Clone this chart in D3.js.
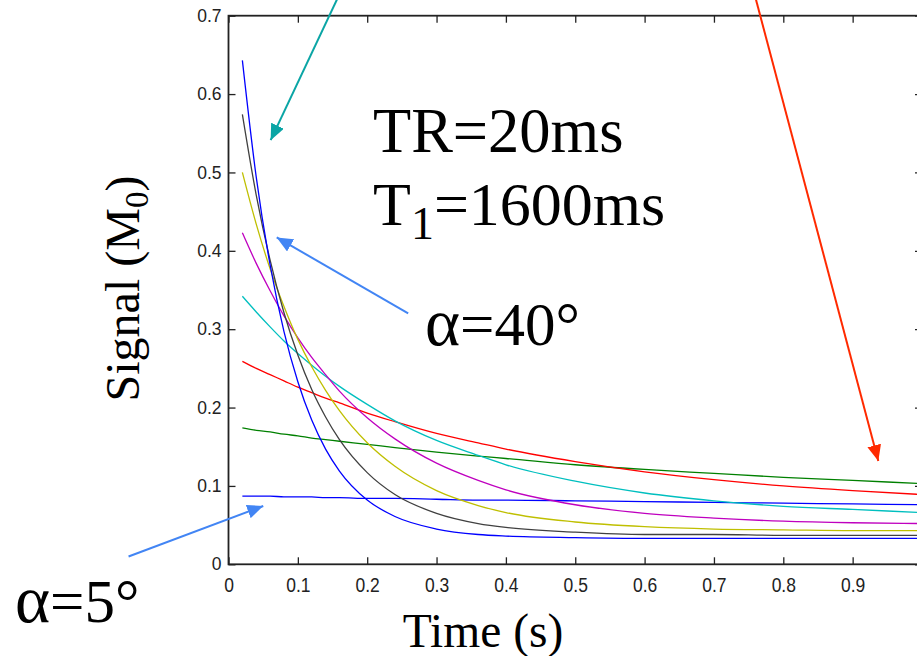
<!DOCTYPE html>
<html lang="en">
<head>
<meta charset="UTF-8">
<script src="https://cdn.jsdelivr.net/npm/d3@7"></script>
<title>Signal vs time</title>
<style>
    body { margin: 0; background: #fff; }
    .tick text { font-family: "Liberation Sans", Arial, sans-serif; font-size: 17.5px; fill: #222; }
    .tick line { stroke: #222; stroke-width: 1.3px; }
    .serif { font-family: "Liberation Serif", "Times New Roman", serif; fill: #000; }
</style>
</head>
<body>
<svg id="chart" width="917" height="656"></svg>
<script>
    // time of each excitation (s), TR = 20 ms
    const times = [0.02, 0.04, 0.06, 0.08, 0.10, 0.12, 0.14, 0.16, 0.20, 0.24, 0.30, 0.36, 0.40, 0.50, 0.60, 0.70, 0.80, 0.90, 1.00];

    // signal (fraction of M0) for each flip angle
    const sig5  = [0.087, 0.087, 0.087, 0.086, 0.086, 0.086, 0.085, 0.085, 0.084, 0.084, 0.083, 0.082, 0.082, 0.081, 0.080, 0.079, 0.078, 0.077, 0.076];
    const sig10 = [0.174, 0.171, 0.169, 0.166, 0.164, 0.161, 0.159, 0.157, 0.153, 0.149, 0.143, 0.138, 0.135, 0.127, 0.121, 0.116, 0.111, 0.107, 0.103];
    const sig15 = [0.259, 0.250, 0.242, 0.234, 0.226, 0.219, 0.212, 0.206, 0.193, 0.182, 0.167, 0.155, 0.147, 0.131, 0.118, 0.108, 0.100, 0.094, 0.089];
    const sig20 = [0.342, 0.322, 0.303, 0.285, 0.269, 0.254, 0.240, 0.227, 0.204, 0.183, 0.158, 0.139, 0.127, 0.106, 0.091, 0.081, 0.074, 0.070, 0.066];
    const sig25 = [0.423, 0.384, 0.349, 0.317, 0.289, 0.264, 0.242, 0.221, 0.187, 0.160, 0.129, 0.107, 0.095, 0.076, 0.065, 0.059, 0.055, 0.053, 0.052];
    const sig30 = [0.500, 0.434, 0.377, 0.329, 0.287, 0.252, 0.222, 0.196, 0.155, 0.125, 0.094, 0.075, 0.066, 0.054, 0.048, 0.045, 0.044, 0.043, 0.043];
    const sig35 = [0.574, 0.471, 0.388, 0.321, 0.267, 0.223, 0.188, 0.159, 0.117, 0.089, 0.065, 0.052, 0.047, 0.041, 0.038, 0.038, 0.037, 0.037, 0.037];
    const sig40 = [0.643, 0.494, 0.382, 0.297, 0.233, 0.184, 0.147, 0.119, 0.082, 0.061, 0.045, 0.038, 0.036, 0.034, 0.033, 0.033, 0.033, 0.033, 0.033];

    const allSeries = [sig5, sig10, sig15, sig20, sig25, sig30, sig35, sig40];
    const lineColors = ["#0000ff", "#008000", "#ff0000", "#00bfbf", "#bf00bf", "#bfbf00", "#404040", "#0000ff"];

    const xTickVals = [0, 0.1, 0.2, 0.3, 0.4, 0.5, 0.6, 0.7, 0.8, 0.9, 1];
    const xTickLabels = ["0", "0.1", "0.2", "0.3", "0.4", "0.5", "0.6", "0.7", "0.8", "0.9", ""]; // "1" falls off the right edge
    const yTickVals = [0, 0.1, 0.2, 0.3, 0.4, 0.5, 0.6, 0.7];

    const svg = d3.select("#chart");
    const plotL = 228.5, plotR = 922, plotT = 15.7, plotB = 564.3;

    const x = d3.scaleLinear().domain([0, 1]).range([plotL, plotR]);
    const y = d3.scaleLinear().domain([0, 0.7]).range([plotB, plotT]);
    const fmt = d3.format("~g");

    // axes box with inward ticks on all four sides
    svg.append("g")
        .attr("transform", `translate(0,${plotB})`)
        .call(d3.axisBottom(x).tickValues(xTickVals).tickFormat((d, i) => xTickLabels[i]).tickSizeInner(-7).tickSizeOuter(0).tickPadding(12))
        .call(g => g.select(".domain").remove())
        .call(g => g.selectAll("text").attr("transform", "scale(1,1.12)"));
    svg.append("g")
        .attr("transform", `translate(0,${plotT})`)
        .call(d3.axisTop(x).tickValues(xTickVals).tickFormat("").tickSizeInner(-7).tickSizeOuter(0))
        .call(g => g.select(".domain").remove());
    svg.append("g")
        .attr("transform", `translate(${plotL},0)`)
        .call(d3.axisLeft(y).tickValues(yTickVals).tickFormat(fmt).tickSizeInner(-7).tickSizeOuter(0).tickPadding(7))
        .call(g => g.select(".domain").remove());
    svg.append("g")
        .attr("transform", `translate(${plotR},0)`)
        .call(d3.axisRight(y).tickValues(yTickVals).tickFormat("").tickSizeInner(-7).tickSizeOuter(0))
        .call(g => g.select(".domain").remove());

    svg.append("rect")
        .attr("x", plotL).attr("y", plotT)
        .attr("width", plotR - plotL).attr("height", plotB - plotT)
        .attr("fill", "none").attr("stroke", "#222").attr("stroke-width", 1.8);

    // signal curves
    const line = d3.line()
        .x(d => x(d[0]))
        .y(d => y(d[1]))
        .curve(d3.curveMonotoneX);

    svg.append("g").selectAll("path")
        .data(allSeries)
        .join("path")
        .attr("d", s => line(times.map((t, i) => [t, s[i]])))
        .attr("fill", "none")
        .attr("stroke", (s, i) => lineColors[i])
        .attr("stroke-width", 1.3);

    // axis titles
    svg.append("text").attr("class", "serif")
        .attr("x", 483).attr("y", 646.5)
        .attr("text-anchor", "middle")
        .style("font-size", "47.5px")
        .text("Time (s)");

    const ylab = svg.append("text").attr("class", "serif")
        .attr("transform", "translate(139,288.5) rotate(-90)")
        .attr("text-anchor", "middle")
        .style("font-size", "48px");
    ylab.append("tspan").text("Signal (M");
    ylab.append("tspan").attr("dy", 9).style("font-size", "33px").text("0");
    ylab.append("tspan").attr("dy", -9).text(")");

    // annotations
    svg.append("text").attr("class", "serif")
        .attr("x", 373).attr("y", 152).style("font-size", "62.5px")
        .text("TR=20ms");
    const t1 = svg.append("text").attr("class", "serif")
        .attr("x", 373).attr("y", 225).style("font-size", "62px");
    t1.append("tspan").text("T");
    t1.append("tspan").attr("dy", 14).style("font-size", "46px").text("1");
    t1.append("tspan").attr("dy", -14).text("=1600ms");

    const a40 = svg.append("text").attr("class", "serif")
        .attr("x", 425).attr("y", 345).style("font-size", "61px");
    a40.append("tspan").style("font-size", "67px").text("α");
    a40.append("tspan").text("=40°");
    const a5 = svg.append("text").attr("class", "serif")
        .attr("x", 15).attr("y", 621.7).style("font-size", "61px");
    a5.append("tspan").style("font-size", "67px").text("α");
    a5.append("tspan").text("=5°");

    // arrows (start and tip given in data units)
    const arrows = [
        { from: [0.1627, 0.7325], to: [0.0608, 0.5412], color: "#0aa5a5" },
        { from: [0.2591, 0.3202], to: [0.0695, 0.4171], color: "#4285f4" },
        { from: [-0.1441, 0.0100], to: [0.0501, 0.0744], color: "#4285f4" },
        { from: [0.757, 0.7325], to: [0.937, 0.1318], color: "#ff2a00" }
    ];

    const defs = svg.append("defs");
    arrows.forEach((a, i) => {
        defs.append("marker")
            .attr("id", "head" + i)
            .attr("markerUnits", "userSpaceOnUse")
            .attr("viewBox", "0 0 16 14")
            .attr("markerWidth", 16).attr("markerHeight", 14)
            .attr("refX", 16).attr("refY", 7)
            .attr("orient", "auto")
            .append("path")
            .attr("d", "M0,0 L16,7 L0,14 Z")
            .attr("fill", a.color);
        svg.append("line")
            .attr("x1", x(a.from[0])).attr("y1", y(a.from[1]))
            .attr("x2", x(a.to[0])).attr("y2", y(a.to[1]))
            .attr("stroke", a.color)
            .attr("stroke-width", 2)
            .attr("marker-end", `url(#head${i})`);
    });
</script>
</body>
</html>
